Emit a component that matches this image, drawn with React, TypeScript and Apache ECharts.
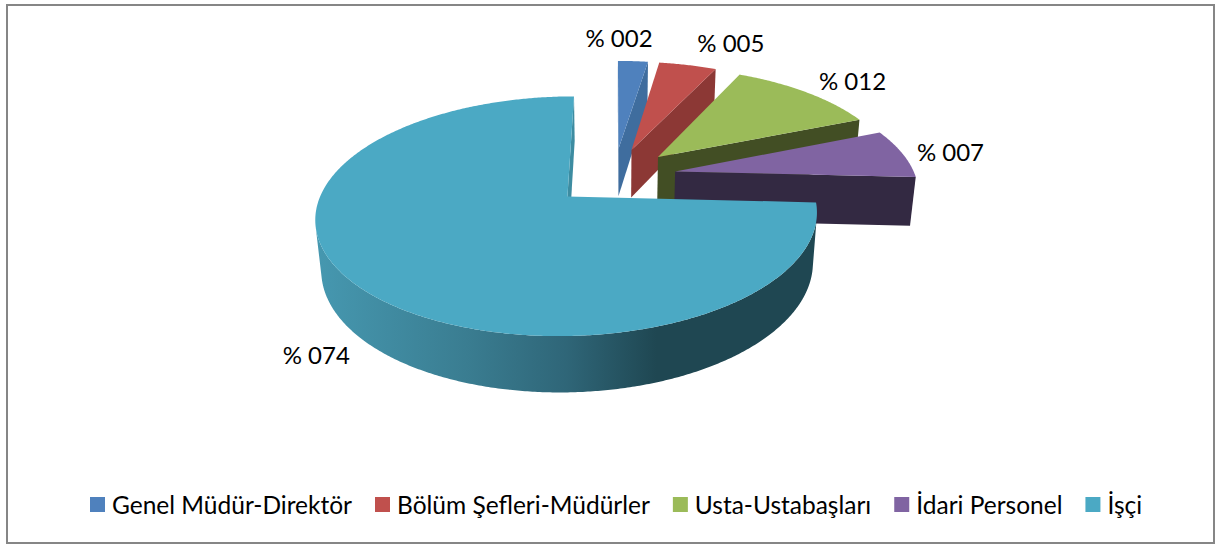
import React, { useEffect, useRef } from "react";
import * as echarts from "echarts";

const categories = ["Genel Müdür-Direktör", "Bölüm Şefleri-Müdürler", "Usta-Ustabaşları", "İdari Personel", "İşçi"];
const values = [2.4, 4.6, 11.8, 7, 74.2];
const labels = ["% 002", "% 005", "% 012", "% 007", "% 074"];

const topColors = ["#4F81BD", "#C0504D", "#9BBB59", "#8064A2", "#4BA9C4"];
const wallColors = ["#3F6D9E", "#8C3835", "#424E24", "#332942", "#3D8CA1"];
const labelOffsets = [[-14, -24], [43, -23], [46, -12], [48, -2], [-43, 67]];

const EXPLODE = 0.26;
const START = 0;
const CX = 614, CY = 176.2, F = 1333, D = 5.55, S = 0.458, C = 0.889, H = 0.2335;
const FONT = "Lato";

const total = values.reduce((a, b) => a + b, 0);
const rad = (d: number) => (d * Math.PI) / 180;

function project(x: number, y: number, z: number): number[] {
  const zc = D + y * C - z * S;
  return [CX + (F * x) / zc, CY - (F * (y * S + z * C)) / zc];
}

function sliceShapes(i: number, value: number) {
  const before = values.slice(0, i).reduce((a, b) => a + b, 0);
  const a0 = START + (before / total) * 360;
  const a1 = a0 + (value / total) * 360;
  const mid = (a0 + a1) / 2;
  const ex = EXPLODE * Math.sin(rad(mid));
  const ey = EXPLODE * Math.cos(rad(mid));
  const rim = (deg: number, z: number) => project(ex + Math.sin(rad(deg)), ey + Math.cos(rad(deg)), z);
  const apex = (z: number) => project(ex, ey, z);
  const camY = -D * C;
  const facing = (deg: number) => {
    const s = Math.sin(rad(deg)), c = Math.cos(rad(deg));
    return -(ex + s) * s + (camY - ey - c) * c > 0;
  };
  const children: any[] = [];
  const wall = (deg: number, sign: number) => {
    const nx = sign * Math.cos(rad(deg)), ny = -sign * Math.sin(rad(deg));
    if (-ex * nx + (camY - ey) * ny <= 0) return;
    children.push({
      type: "polygon",
      shape: { points: [apex(0), rim(deg, 0), rim(deg, -H), apex(-H)] },
      style: { fill: wallColors[i] },
    });
  };
  wall(a0, -1);
  wall(a1, 1);
  const steps: number[] = [];
  for (let d = a0; d < a1; d += 0.5) steps.push(d);
  steps.push(a1);
  const front = steps.filter(facing);
  if (front.length > 1) {
    const pts = [...front.map((d) => rim(d, 0)), ...[...front].reverse().map((d) => rim(d, -H))];
    children.push({
      type: "polygon",
      shape: { points: pts },
      style: {
        fill:
          i === 4
            ? new echarts.graphic.LinearGradient(0, 0, 1, 0, [
                { offset: 0, color: "#4698B0" },
                { offset: 0.3, color: "#3A7D91" },
                { offset: 0.5, color: "#2F6678" },
                { offset: 0.68, color: "#1F4752" },
                { offset: 1, color: "#1F4752" },
              ])
            : wallColors[i],
      },
    });
  }
  children.push({
    type: "polygon",
    shape: { points: [apex(0), ...steps.map((d) => rim(d, 0))] },
    style: { fill: topColors[i] },
  });
  const anchor = rim(mid, 0);
  children.push({
    type: "text",
    x: anchor[0] + labelOffsets[i][0],
    y: anchor[1] + labelOffsets[i][1],
    style: {
      text: labels[i],
      fill: "#000",
      font: `24px ${FONT}`,
      align: "center",
      verticalAlign: "middle",
    },
  });
  return { type: "group", children };
}

export default function App() {
  const ref = useRef<HTMLDivElement>(null);
  useEffect(() => {
    const chart = echarts.init(ref.current!, undefined, { renderer: "svg" });
    chart.setOption({
      animation: false,
      backgroundColor: "#fff",
      graphic: [
        {
          type: "rect",
          shape: { x: 7, y: 5, width: 1207, height: 538 },
          style: { fill: "none", stroke: "#868686", lineWidth: 2 },
          silent: true,
        },
      ],
      legend: {
        left: 85,
        top: 487,
        icon: "rect",
        itemWidth: 15,
        itemHeight: 15,
        itemGap: 23,
        data: categories,
        textStyle: { fontFamily: FONT, fontSize: 24.5, color: "#000", padding: [0, 0, 0, 2] },
      },
      series: categories.map((name, i) => ({
        type: "custom",
        name,
        coordinateSystem: "none",
        silent: true,
        z: 2 + i,
        itemStyle: { color: topColors[i] },
        data: [[values[i]]],
        renderItem: (_p: any, api: any) => sliceShapes(i, api.value(0)),
      })),
    });
    return () => chart.dispose();
  }, []);
  return <div ref={ref} style={{ position: "absolute", left: 0, top: 0, width: 1217, height: 545 }} />;
}
